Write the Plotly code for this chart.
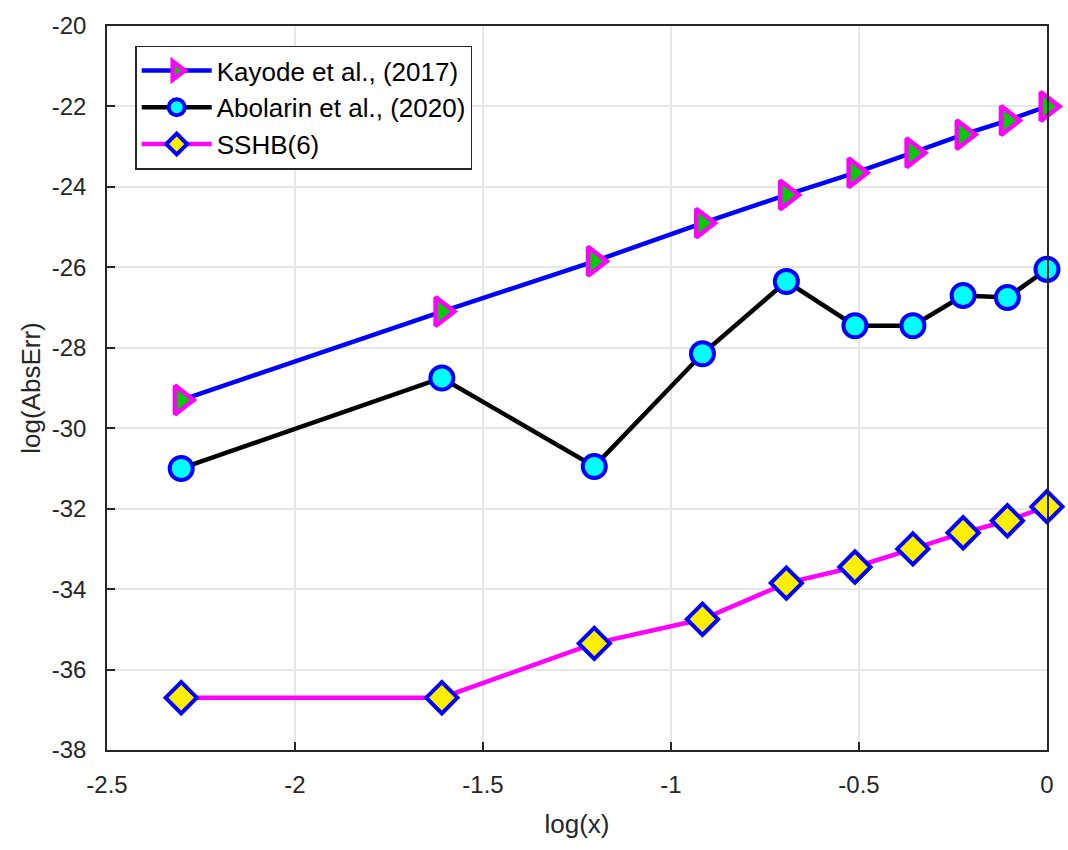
import plotly.graph_objects as go

log_x = [-2.3026, -1.6094, -1.2040, -0.9163, -0.6931, -0.5108, -0.3567, -0.2231, -0.1054, 0.0]
kayode = [-29.3, -27.1, -25.85, -24.9, -24.2, -23.65, -23.15, -22.7, -22.35, -22.0]
abolarin = [-31.0, -28.75, -30.95, -28.15, -26.35, -27.45, -27.45, -26.7, -26.75, -26.05]
sshb = [-36.7, -36.7, -35.35, -34.75, -33.85, -33.45, -33.0, -32.6, -32.3, -31.95]

x_ticks = [-2.5, -2, -1.5, -1, -0.5, 0]
y_ticks = [-20, -22, -24, -26, -28, -30, -32, -34, -36, -38]

fig = go.Figure()
fig.add_trace(go.Scatter(
    x=log_x, y=kayode, name="Kayode et al., (2017)", mode="lines+markers",
    line=dict(color="#0000ff", width=4.5),
    marker=dict(symbol="triangle-right", size=25, color="#00cc00",
                line=dict(color="#ff00ff", width=4.5)),
    cliponaxis=False))
fig.add_trace(go.Scatter(
    x=log_x, y=abolarin, name="Abolarin et al., (2020)", mode="lines+markers",
    line=dict(color="#000000", width=4.5),
    marker=dict(symbol="circle", size=23, color="#00ffff",
                line=dict(color="#0000ff", width=4)),
    cliponaxis=False))
fig.add_trace(go.Scatter(
    x=log_x, y=sshb, name="SSHB(6)", mode="lines+markers",
    line=dict(color="#ff00ff", width=4.5),
    marker=dict(symbol="diamond", size=24, color="#ffee00",
                line=dict(color="#0000ff", width=4)),
    cliponaxis=False))

axis_common = dict(
    showline=True, linecolor="#262626", linewidth=1.5, mirror=True,
    ticks="inside", ticklen=8, tickcolor="#262626", tickwidth=1.5,
    showgrid=True, gridcolor="#e6e6e6", gridwidth=1.5, zeroline=False,
    tickfont=dict(family="Liberation Sans, Arial", size=24, color="#262626"),
)

fig.update_layout(
    width=1068, height=850,
    margin=dict(l=107, r=21, t=17, b=100),
    paper_bgcolor="white", plot_bgcolor="white",
    font=dict(family="Liberation Sans, Arial", color="#262626"),
    xaxis=dict(range=[-2.5, 0], tickvals=x_ticks, ticktext=[str(v) for v in x_ticks],
               ticklabelstandoff=12,
               title=dict(text="log(x)", font=dict(size=26), standoff=18), **axis_common),
    yaxis=dict(range=[-38, -20], tickvals=y_ticks, ticktext=[str(v) for v in y_ticks],
               ticklabelstandoff=14,
               title=dict(text="log(AbsErr)", font=dict(size=26), standoff=4), **axis_common),
    legend=dict(x=0.03, y=0.973, xanchor="left", yanchor="top",
                bgcolor="white", bordercolor="#262626", borderwidth=1.5,
                font=dict(size=26, color="#000000"), tracegroupgap=0,
                itemwidth=70),
    showlegend=True,
)

fig.write_html("out.html")
